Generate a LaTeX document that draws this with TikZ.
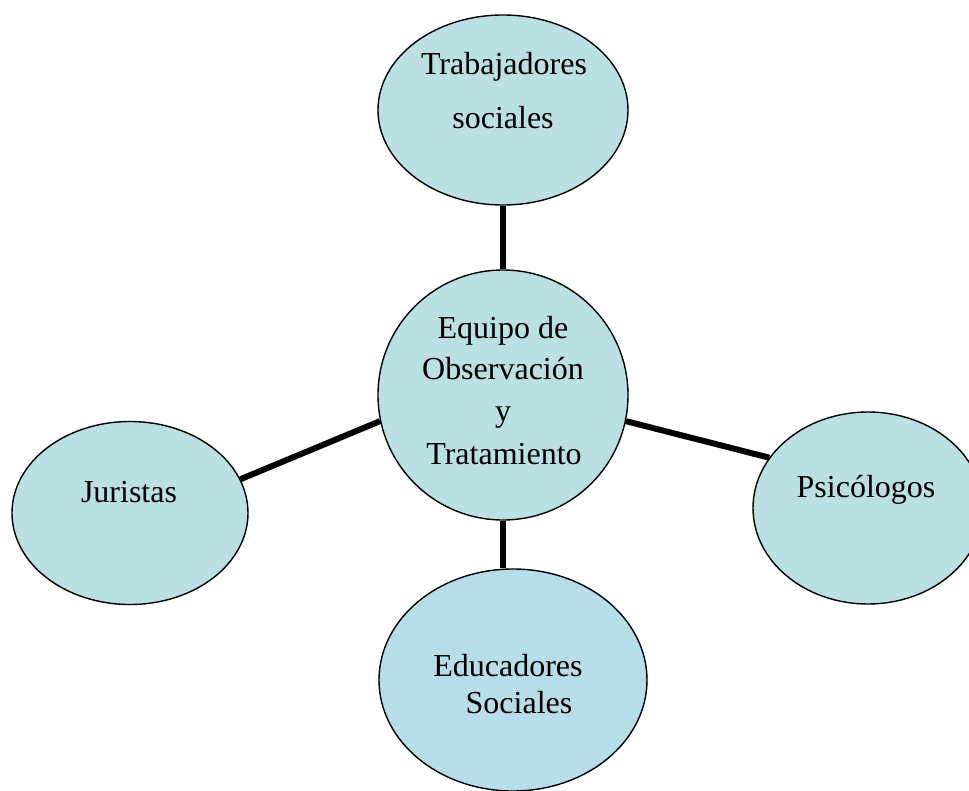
\documentclass[tikz,border=0pt]{standalone}
\usepackage{fontspec}
\setmainfont{Liberation Serif}
\usetikzlibrary{shapes.geometric,backgrounds}
\definecolor{bubble}{RGB}{186,224,227}
\definecolor{bubbleb}{RGB}{183,221,232}
\begin{document}
\begin{tikzpicture}[x=1pt,y=-1pt,
  bub/.style={ellipse, draw=black, line width=1.4pt, fill=bubble, inner sep=0pt},
  lbl/.style={anchor=base, inner sep=0pt, font=\fontsize{32}{36}\selectfont},
  link/.style={line width=6pt, black}]
\useasboundingbox (0,0) rectangle (969,790);
\clip (0,0) rectangle (969,790);
\node[bub, minimum width=250pt, minimum height=190pt] (ts) at (503,110) {};
\node[bub, minimum width=250pt, minimum height=250pt] (ctr) at (503,395) {};
\node[bub, minimum width=236pt, minimum height=183pt] (jur) at (130,513) {};
\node[bub, minimum width=230pt, minimum height=192pt] (psi) at (868,508) {};
\node[bub, fill=bubbleb, minimum width=268pt, minimum height=222pt] (edu) at (513,680) {};
\begin{scope}[on background layer]
\draw[link] (ts.south) -- (ctr.north);
\draw[link] (ctr.south) -- (ctr.south |- edu.north);
\draw[link] (jur.17) -- (ctr.192);
\draw[link] (ctr.-12) -- (psi.153);
\end{scope}
\node[lbl] (t1) at (504,74) {Trabajadores};
\node[lbl] (t2) at (503,128) {sociales};
\node[lbl] (c1) at (503,338) {Equipo de};
\node[lbl] (c2) at (503,379) {Observación};
\node[lbl] (c3) at (503,421) {y};
\node[lbl] (c4) at (504,464) {Tratamiento};
\node[lbl] (j1) at (129,502) {Juristas};
\node[lbl] (p1) at (866,497) {Psicólogos};
\node[lbl] (e1) at (508,676) {Educadores};
\node[lbl] (e2) at (519,713) {Sociales};
\end{tikzpicture}
\end{document}
